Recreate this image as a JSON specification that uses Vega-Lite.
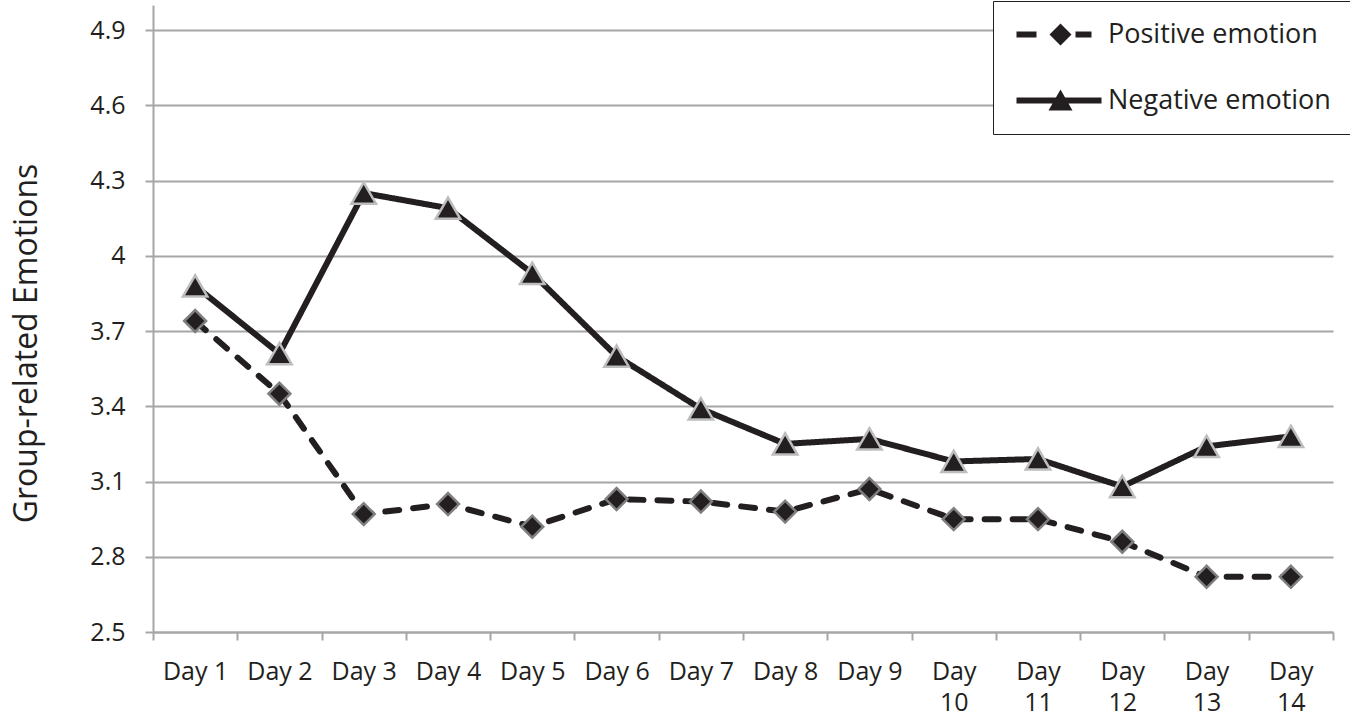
{
  "$schema": "https://vega.github.io/schema/vega-lite/v6.json",
  "width": 1180,
  "height": 627,
  "autosize": {"type": "none"},
  "padding": {"left": 153, "top": 5, "right": 17, "bottom": 86},
  "background": "white",
  "config": {"view": {"stroke": null}, "font": "Open Sans"},
  "data": {
    "values": [
      {"day": "Day 1", "series": "Positive emotion", "value": 3.74},
      {"day": "Day 2", "series": "Positive emotion", "value": 3.45},
      {"day": "Day 3", "series": "Positive emotion", "value": 2.97},
      {"day": "Day 4", "series": "Positive emotion", "value": 3.01},
      {"day": "Day 5", "series": "Positive emotion", "value": 2.92},
      {"day": "Day 6", "series": "Positive emotion", "value": 3.03},
      {"day": "Day 7", "series": "Positive emotion", "value": 3.02},
      {"day": "Day 8", "series": "Positive emotion", "value": 2.98},
      {"day": "Day 9", "series": "Positive emotion", "value": 3.07},
      {"day": "Day 10", "series": "Positive emotion", "value": 2.95},
      {"day": "Day 11", "series": "Positive emotion", "value": 2.95},
      {"day": "Day 12", "series": "Positive emotion", "value": 2.86},
      {"day": "Day 13", "series": "Positive emotion", "value": 2.72},
      {"day": "Day 14", "series": "Positive emotion", "value": 2.72},
      {"day": "Day 1", "series": "Negative emotion", "value": 3.88},
      {"day": "Day 2", "series": "Negative emotion", "value": 3.61},
      {"day": "Day 3", "series": "Negative emotion", "value": 4.25},
      {"day": "Day 4", "series": "Negative emotion", "value": 4.19},
      {"day": "Day 5", "series": "Negative emotion", "value": 3.93},
      {"day": "Day 6", "series": "Negative emotion", "value": 3.60},
      {"day": "Day 7", "series": "Negative emotion", "value": 3.39},
      {"day": "Day 8", "series": "Negative emotion", "value": 3.25},
      {"day": "Day 9", "series": "Negative emotion", "value": 3.27},
      {"day": "Day 10", "series": "Negative emotion", "value": 3.18},
      {"day": "Day 11", "series": "Negative emotion", "value": 3.19},
      {"day": "Day 12", "series": "Negative emotion", "value": 3.08},
      {"day": "Day 13", "series": "Negative emotion", "value": 3.24},
      {"day": "Day 14", "series": "Negative emotion", "value": 3.28}
    ]
  },
  "encoding": {
    "x": {
      "field": "day",
      "type": "nominal",
      "sort": null,
      "scale": {"paddingInner": 0, "paddingOuter": 0},
      "axis": {
        "title": null,
        "labelAngle": 0,
        "tickBand": "extent",
        "grid": false,
        "domainColor": "#a6a6a6",
        "domainWidth": 2,
        "tickColor": "#a6a6a6",
        "tickWidth": 2,
        "tickSize": 8,
        "labelFont": "Open Sans",
        "labelFontSize": 25,
        "labelColor": "#231f20",
        "labelPadding": 19,
        "labelLineHeight": 31,
        "labelOverlap": false,
        "labelBound": false,
        "labelExpr": "length(datum.label) > 5 ? split(datum.label, ' ') : datum.label"
      }
    },
    "y": {
      "field": "value",
      "type": "quantitative",
      "scale": {"domain": [2.5, 5.0], "nice": false, "zero": false},
      "axis": {
        "values": [2.5, 2.8, 3.1, 3.4, 3.7, 4.0, 4.3, 4.6, 4.9],
        "format": "~g",
        "title": "Group-related Emotions",
        "titleFont": "Open Sans",
        "titleFontSize": 32,
        "titleFontWeight": "normal",
        "titleColor": "#231f20",
        "titlePadding": 46,
        "titleY": 338,
        "grid": true,
        "gridColor": "#a6a6a6",
        "gridWidth": 2,
        "domainColor": "#a6a6a6",
        "domainWidth": 2,
        "tickColor": "#a6a6a6",
        "tickWidth": 2,
        "tickSize": 8,
        "labelFont": "Open Sans",
        "labelFontSize": 25,
        "labelColor": "#231f20",
        "labelPadding": 20
      }
    }
  },
  "layer": [
    {
      "mark": {"type": "line", "strokeWidth": 6, "color": "#231f20", "strokeCap": "round", "strokeJoin": "round"},
      "encoding": {
        "detail": {"field": "series", "type": "nominal"},
        "strokeDash": {
          "condition": {"test": "datum.series === 'Positive emotion'", "value": [14, 14]},
          "value": [1, 0]
        }
      }
    },
    {
      "mark": {"type": "point", "filled": true, "fill": "#231f20", "strokeWidth": 2.5, "opacity": 1},
      "encoding": {
        "shape": {
          "condition": {"test": "datum.series === 'Positive emotion'", "value": "diamond"},
          "value": "triangle-up"
        },
        "size": {
          "condition": {"test": "datum.series === 'Positive emotion'", "value": 480},
          "value": 600
        },
        "stroke": {
          "condition": {"test": "datum.series === 'Positive emotion'", "value": "#7f7f7f"},
          "value": "#bdbdbd"
        }
      }
    },
    {
      "transform": [{"filter": "false"}],
      "mark": {"type": "point", "filled": true, "fill": "#231f20", "opacity": 1},
      "encoding": {
        "shape": {
          "field": "series",
          "type": "nominal",
          "scale": {
            "domain": ["Positive emotion", "Negative emotion"],
            "range": [
              "M-1,-0.3L1,-0.3L1,0.3L-1,0.3ZM2.3,0L3.4,-1.1L4.5,0L3.4,1.1ZM4.9,-0.3L6.5,-0.3L6.5,0.3L4.9,0.3Z",
              "M-1,-0.3L7.5,-0.3L7.5,0.3L-1,0.3ZM2.2,1L3.4,-1.1L4.6,1Z"
            ]
          },
          "legend": {
            "orient": "none",
            "legendX": 840,
            "legendY": -4,
            "title": null,
            "padding": 20,
            "fillColor": "white",
            "strokeColor": "#231f20",
            "symbolSize": 400,
            "symbolStrokeWidth": 0,
            "symbolFillColor": "#231f20",
            "symbolOpacity": 1,
            "labelFont": "Open Sans",
            "labelFontSize": 27,
            "labelColor": "#231f20",
            "labelLimit": 500,
            "labelOffset": 68,
            "rowPadding": 38,
            "encode": {
              "legend": {"update": {"strokeWidth": {"value": 2}}},
              "symbols": {
                "update": {
                  "fill": {"value": "#231f20"},
                  "stroke": {"value": "transparent"},
                  "strokeWidth": {"value": 0},
                  "opacity": {"value": 1}
                }
              }
            }
          }
        }
      }
    }
  ]
}
